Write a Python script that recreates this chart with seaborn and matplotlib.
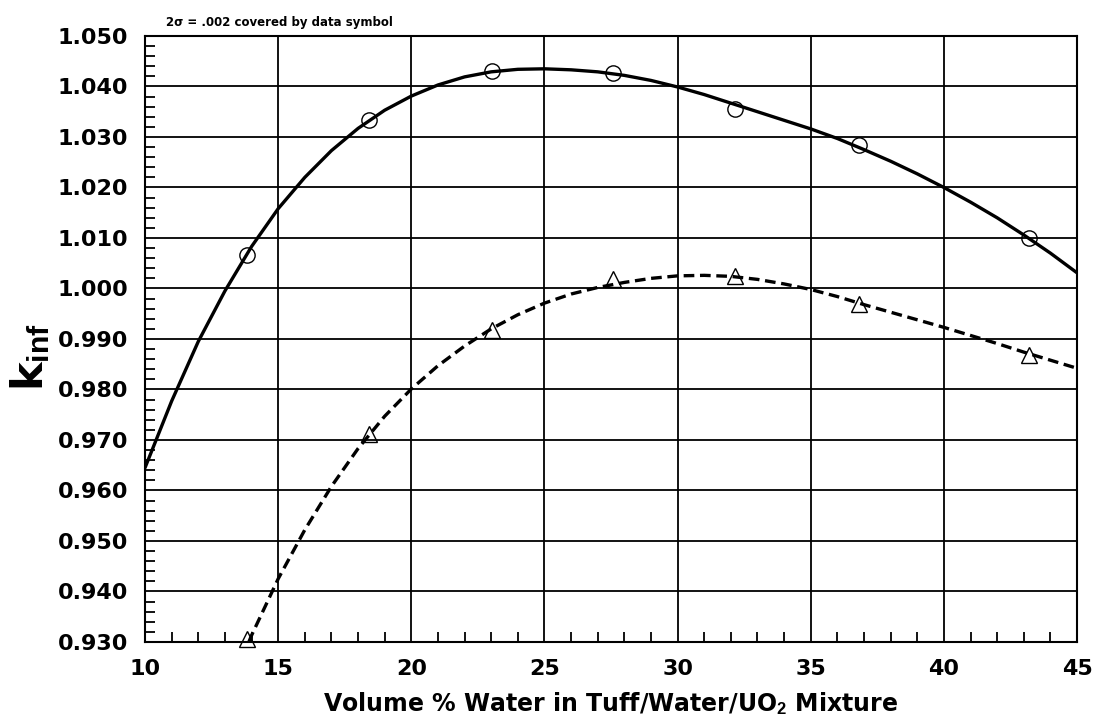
import numpy as np
import pandas as pd
import matplotlib
matplotlib.use('Agg')
import matplotlib.pyplot as plt
import seaborn as sns
from matplotlib.ticker import MultipleLocator, FormatStrFormatter

# fitted curves at each 1 % step
x_solid = list(range(10, 46))
k_solid = [0.9645, 0.9777, 0.9895, 0.9995, 1.0083, 1.0158, 1.0220, 1.0273, 1.0317,
           1.0353, 1.0381, 1.0403, 1.0419, 1.0429, 1.0434, 1.0435, 1.0433, 1.0429,
           1.0422, 1.0412, 1.0399, 1.0384, 1.0367, 1.0350, 1.0333, 1.0316, 1.0297,
           1.0275, 1.0252, 1.0227, 1.0200, 1.0171, 1.0140, 1.0106, 1.0070, 1.0031]

x_dash = [13.9] + list(range(14, 46))
k_dash = [0.9300, 0.9313, 0.9425, 0.9522, 0.9608, 0.9683, 0.9747, 0.9801, 0.9847,
          0.9886, 0.9920, 0.9948, 0.9971, 0.9989, 1.0002, 1.0012, 1.0020, 1.0025,
          1.0026, 1.0024, 1.0018, 1.0009, 0.9998, 0.9984, 0.9968, 0.9953, 0.9938,
          0.9923, 0.9907, 0.9891, 0.9874, 0.9858, 0.9842]

# calculated points
x_pts = [13.84, 18.42, 23.04, 27.58, 32.17, 36.80, 43.19]
k_circle = [1.0066, 1.0334, 1.0431, 1.0426, 1.0356, 1.0285, 1.0100]
k_triangle = [0.9305, 0.9712, 0.9917, 1.0018, 1.0024, 0.9970, 0.9869]

sns.set_style('white')
plt.rcParams['font.family'] = ['DejaVu Sans']
plt.rcParams['text.color'] = 'black'
plt.rcParams['axes.labelcolor'] = 'black'
plt.rcParams['xtick.color'] = 'black'
plt.rcParams['ytick.color'] = 'black'
plt.rcParams['mathtext.fontset'] = 'custom'
plt.rcParams['mathtext.rm'] = 'Liberation Sans:bold'
plt.rcParams['mathtext.it'] = 'Liberation Sans:bold'
plt.rcParams['mathtext.bf'] = 'Liberation Sans:bold'

fig, ax = plt.subplots(figsize=(10.97, 7.24), dpi=100)
fig.subplots_adjust(left=0.1322, right=0.9818, bottom=0.1133, top=0.9503)

curves = pd.DataFrame({'x': x_solid, 'k': k_solid})
dcurve = pd.DataFrame({'x': x_dash, 'k': k_dash})
pts = pd.DataFrame({'x': x_pts, 'circ': k_circle, 'tri': k_triangle})

sns.lineplot(curves, x='x', y='k', ax=ax, color='black', linewidth=2.4, zorder=3)
sns.lineplot(dcurve, x='x', y='k', ax=ax, color='black', linewidth=2.4,
             dashes=False, zorder=3)
ax.lines[-1].set_dashes((3.2, 1.7))

ax.plot(pts['x'], pts['circ'], linestyle='none', marker='o', markersize=11,
        markerfacecolor='none', markeredgecolor='black', markeredgewidth=1.0,
        zorder=4, clip_on=False)
ax.plot(pts['x'], pts['tri'], linestyle='none', marker='^', markersize=11,
        markerfacecolor='none', markeredgecolor='black', markeredgewidth=1.0,
        zorder=4, clip_on=False)

ax.set_xlim(10, 45)
ax.set_ylim(0.930, 1.050)
ax.xaxis.set_major_locator(MultipleLocator(5))
ax.xaxis.set_minor_locator(MultipleLocator(1))
ax.yaxis.set_major_locator(MultipleLocator(0.010))
ax.yaxis.set_minor_locator(MultipleLocator(0.002))
ax.yaxis.set_major_formatter(FormatStrFormatter('%.3f'))

ax.grid(True, which='major', color='black', linewidth=1.3)
ax.set_axisbelow(True)
for s in ax.spines.values():
    s.set_color('black')
    s.set_linewidth(1.5)

ax.tick_params(which='major', length=0, pad=12, labelsize=16)
ax.tick_params(which='minor', direction='in', length=7, width=1.3,
               left=True, bottom=True, color='black')
for lbl in ax.get_xticklabels() + ax.get_yticklabels():
    lbl.set_fontweight('bold')

ax.set_xlabel(r'Volume % Water in Tuff/Water/UO$_2$ Mixture', fontsize=17,
              fontweight='bold', labelpad=8)
ax.set_ylabel(r'k$_{\mathrm{inf}}$', fontsize=31, fontweight='bold')
ax.yaxis.set_label_coords(-0.1, 0.47)
ax.text(0.023, 1.012, '2\u03c3 = .002 covered by data symbol', transform=ax.transAxes,
        fontsize=8.5, fontweight='bold', va='bottom', ha='left')

plt.savefig('out.png', dpi=100)
